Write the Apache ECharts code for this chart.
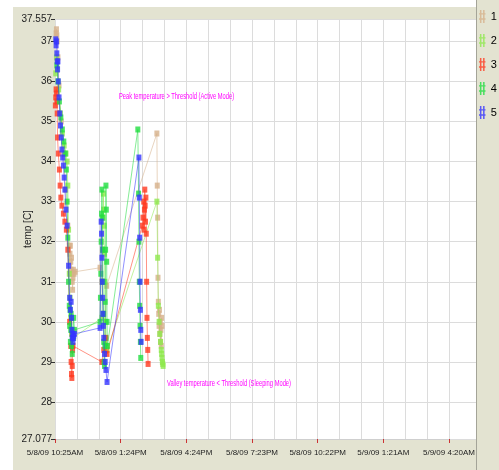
<!DOCTYPE html>
<html><head><meta charset="utf-8">
<script src="https://cdn.jsdelivr.net/npm/echarts@6/dist/echarts.min.js"></script>
<style>html,body{margin:0;padding:0;background:#fff}#c{width:499px;height:470px}</style>
</head><body><div id="c"></div>
<script>
// ---- tick labels ----
const xTickLabels = ["5/8/09 10:25AM","5/8/09 1:24PM","5/8/09 4:24PM","5/8/09 7:23PM","5/8/09 10:22PM","5/9/09 1:21AM","5/9/09 4:20AM"];
const yTickValues = [27.077,28,29,30,31,32,33,34,35,36,37,37.557];
const seriesNames = ["1","2","3","4","5"];
const seriesColors = ["#d6b08a","#8ee84e","#ff3a20","#20dd40","#3434ff"];

// ---- series 1 (times on 5/8/09, temps in C) ----
const times1 = ["10:28","10:29","10:30","10:31","10:33","10:36","10:42","10:48","10:54","11:00","11:04","11:06","11:07","11:08","11:09","11:10","11:11","11:12","11:13","11:14","11:15","11:17","11:20","12:28","12:33","12:38","12:42","12:46","15:03","15:04","15:05","15:06","15:07","15:08","15:09","15:10","15:11","15:12","15:13","15:14","15:15","15:16","15:17"];
const temps1 = [37.2,37.3,37.15,37.0,36.6,35.9,35.0,34.2,33.3,32.4,31.9,31.7,31.9,31.5,31.3,31.6,31.2,31.0,30.8,31.1,31.3,31.2,31.25,31.35,31.0,30.2,29.6,30.9,34.7,33.4,32.6,31.1,30.5,30.2,29.9,30.3,29.7,30.0,29.5,29.8,29.4,30.1,29.9];

// ---- series 2 ----
const times2 = ["10:27","10:29","10:31","10:35","10:40","10:45","10:50","10:55","10:58","11:00","11:02","11:04","11:06","11:08","11:10","11:12","11:14","11:16","12:33","12:34","12:35","12:36","12:37","12:38","12:39","12:40","12:41","12:43","12:45","12:47","15:03","15:05","15:07","15:09","15:11","15:13","15:15","15:16","15:17","15:18","15:19","15:20"];
const temps2 = [36.2,36.6,36.3,35.8,35.2,34.7,34.4,34.2,34.0,33.4,32.3,31.2,30.6,30.1,29.7,29.4,29.6,29.6,30.1,31.0,31.8,32.6,33.2,32.8,32.4,31.7,31.0,30.0,29.4,29.3,33.0,31.6,30.4,30.0,29.7,29.5,29.3,29.2,29.1,29.0,28.95,28.9];

// ---- series 3 ----
const times3 = ["10:26","10:27","10:28","10:29","10:30","10:31","10:32","10:34","10:37","10:39","10:41","10:44","10:48","10:52","10:56","11:00","11:05","11:08","11:09","11:10","11:11","11:12","11:13","11:14","12:33","12:38","12:44","12:47","14:23","14:25","14:27","14:28","14:29","14:30","14:31","14:32","14:33","14:34","14:35","14:36","14:37","14:38","14:39"];
const temps3 = [35.4,35.6,35.8,35.7,35.5,35.2,34.6,34.2,33.8,33.4,33.1,32.9,32.7,32.5,32.3,31.8,30.0,29.4,29.0,28.7,28.6,28.9,29.3,29.4,29.0,29.3,29.6,29.2,32.4,32.6,33.0,32.3,32.8,33.3,32.9,32.5,33.1,32.2,31.0,30.1,29.6,29.3,28.95];

// ---- series 4 ----
const times4 = ["10:30","10:33","10:37","10:41","10:45","10:49","10:53","10:56","10:58","11:00","11:02","11:04","11:05","11:06","11:07","11:08","11:09","11:10","11:12","11:14","11:16","11:18","12:28","12:29","12:30","12:31","12:32","12:33","12:34","12:35","12:36","12:37","12:38","12:39","12:40","12:41","12:42","12:43","12:44","12:45","12:46","12:47","12:48","14:11","14:13","14:14","14:15","14:16","14:17","14:18","14:19"];
const temps4 = [36.4,36.0,35.5,35.1,34.8,34.5,34.2,33.8,33.0,32.1,31.0,30.4,29.9,30.3,29.5,29.8,30.2,29.4,29.2,29.7,30.1,29.8,30.0,30.6,31.2,32.0,32.7,33.3,32.6,31.8,31.0,30.2,29.5,29.0,28.9,29.4,30.5,31.8,33.4,32.8,31.5,30.0,29.4,34.8,33.2,32.0,31.0,30.4,29.9,29.5,29.1];

// ---- series 5 ----
const times5 = ["10:27","10:28","10:29","10:30","10:31","10:32","10:33","10:34","10:36","10:38","10:40","10:42","10:44","10:46","10:48","10:50","10:52","10:55","10:58","11:02","11:05","11:07","11:09","11:10","11:11","11:12","11:13","11:14","11:15","11:16","11:18","12:28","12:31","12:32","12:33","12:34","12:35","12:36","12:37","12:38","12:40","12:42","12:44","12:47","14:14","14:15","14:16","14:17","14:18","14:19","14:20"];
const temps5 = [37.05,36.9,37.0,36.7,36.5,36.3,36.5,36.0,35.6,35.2,34.9,34.6,34.3,34.1,33.9,33.6,33.3,32.8,32.4,31.4,30.6,30.3,30.5,30.1,29.8,29.6,29.7,29.5,29.6,29.65,29.7,29.85,32.5,32.2,31.6,31.0,30.6,30.2,29.9,29.6,29.2,29.0,28.8,28.5,34.1,33.1,32.1,31.0,30.3,29.8,29.5];

const allTimes = [times1,times2,times3,times4,times5];
const allTemps = [temps1,temps2,temps3,temps4,temps5];

// x axis unit = one minor grid step (1/18 of the 10:25AM..4:20AM span)
const START_MIN = 10*60 + 25;
const STEP_MIN = 1075 / 18;
function toX(t){ const p = t.split(':').map(Number); return (p[0]*60 + p[1] - START_MIN) / STEP_MIN; }

const FONT = '"Liberation Sans Narrow","Liberation Sans",Arial,sans-serif';
const chart = echarts.init(document.getElementById('c'), null, {renderer:'canvas'});

const series = seriesNames.map((n, i) => ({
  name: n, type: 'line', xAxisIndex: 1, yAxisIndex: 1,
  data: allTimes[i].map((t, k) => [toX(t), allTemps[i][k]]),
  symbol: 'rect', symbolSize: [5,6], showSymbol: true,
  lineStyle: {width: 1, color: seriesColors[i], opacity: 0.55},
  itemStyle: {color: seriesColors[i], opacity: 0.8},
  emphasis: {disabled: true}, z: 2 + i
}));

const gridLine = {color: '#dcdcdc', width: 1};

chart.setOption({
  backgroundColor: '#e3e3d1',
  animation: false,
  textStyle: {fontFamily: FONT},
  graphic: [
    {type:'rect', shape:{x:0,y:0,width:476,height:7}, style:{fill:'#ffffff'}, silent:true},
    {type:'rect', shape:{x:0,y:0,width:13,height:470}, style:{fill:'#ffffff'}, silent:true},
    {type:'line', shape:{x1:476.5,y1:0,x2:476.5,y2:470}, style:{stroke:'#a4a498', lineWidth:1}, silent:true},
    {type:'text', x:119, y:97, scaleX:0.64, z:50,
     style:{text:'Peak temperature > Threshold (Active Mode)', fill:'#ff00ff', font:'9px ' + FONT, verticalAlign:'middle'}},
    {type:'text', x:167, y:384, scaleX:0.64, z:50,
     style:{text:'Valley temperature < Threshold (Sleeping Mode)', fill:'#ff00ff', font:'9px ' + FONT, verticalAlign:'middle'}}
  ],
  grid: [
    {left:55, top:19, right:23, bottom:31, show:true, backgroundColor:'#ffffff', borderWidth:0},
    {left:55, top:19, width:394, bottom:31}
  ],
  xAxis: [
    {gridIndex:0, type:'value', min:0, max:1, show:false},
    {gridIndex:1, type:'value', min:0, max:18, interval:3,
     axisLine:{show:true, lineStyle:{color:'#cfcfcf'}},
     axisTick:{show:true, length:4, lineStyle:{color:'#cc3333', width:1}},
     axisLabel:{formatter:(v) => xTickLabels[Math.round(v/3)] || '', fontSize:8, fontFamily:FONT, color:'#222', margin:10},
     splitLine:{show:true, lineStyle:gridLine},
     minorTick:{show:false, splitNumber:3},
     minorSplitLine:{show:true, lineStyle:gridLine}}
  ],
  yAxis: [
    {gridIndex:0, type:'value', min:27.077, max:37.557,
     axisLine:{show:false},
     axisTick:{show:true, length:4, customValues:yTickValues, lineStyle:{color:'#333'}},
     axisLabel:{customValues:yTickValues, fontSize:10, fontFamily:FONT, color:'#222', margin:3},
     splitLine:{show:true, lineStyle:gridLine},
     name:'temp [C]', nameLocation:'middle', nameGap:22, nameMoveOverlap:false,
     nameTextStyle:{fontSize:10, fontFamily:FONT, color:'#222'}},
    {gridIndex:1, type:'value', min:27.077, max:37.557, show:false, splitLine:{show:false}}
  ],
  legend: {
    orient:'vertical', left:479, top:10, itemWidth:7, itemHeight:13, itemGap:11, padding:0,
    icon:'path://M1,0h1.6v14h-1.6zM4.4,0h1.6v14h-1.6zM0,3.5h7v1.4h-7zM0,9h7v1.4h-7z',
    textStyle:{fontSize:11, fontFamily:FONT, color:'#000'},
    data: seriesNames, selectedMode:false
  },
  series: series
});
</script></body></html>
